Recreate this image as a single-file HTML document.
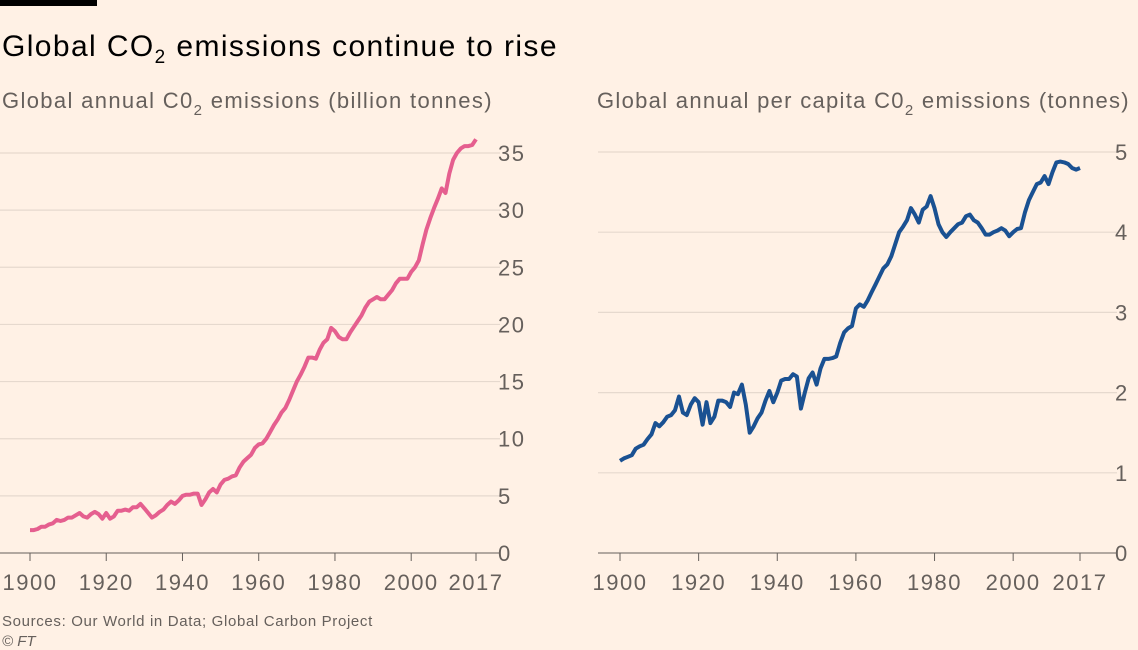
<!DOCTYPE html>
<html><head><meta charset="utf-8"><style>
body{margin:0;background:#fff1e5;}
svg{display:block;font-family:"Liberation Sans",sans-serif;}
</style></head><body>
<svg width="1138" height="650">
<rect x="0" y="0" width="1138" height="650" fill="#fff1e5"/>
<rect x="0" y="0" width="97" height="6" fill="#000"/>
<text x="2" y="56" font-size="30" fill="#000" letter-spacing="1.4">Global CO<tspan font-size="19" dy="7">2</tspan><tspan dy="-7"> emissions continue to rise</tspan></text>
<text x="2" y="108" font-size="22" fill="#66605c" letter-spacing="1.35">Global annual C0<tspan font-size="15" dy="7">2</tspan><tspan dy="-7"> emissions (billion tonnes)</tspan></text>
<text x="597" y="108" font-size="22" fill="#66605c" letter-spacing="1.3">Global annual per capita C0<tspan font-size="15" dy="7">2</tspan><tspan dy="-7"> emissions (tonnes)</tspan></text>
<g id="left"></g>
<g id="right"></g>
<text x="2" y="626" font-size="15" fill="#66605c" letter-spacing="0.65">Sources: Our World in Data; Global Carbon Project</text>
<text x="2" y="646" font-size="15" fill="#66605c" font-style="italic">© FT</text>
</svg>
<script>
const startYear = 1900;
const totalEmissions = [2.0,2.0,2.1,2.3,2.3,2.5,2.6,2.9,2.8,2.9,3.1,3.1,3.3,3.5,3.2,3.1,3.4,3.6,3.4,3.0,3.5,3.0,3.2,3.7,3.7,3.8,3.7,4.0,4.0,4.3,3.9,3.5,3.1,3.3,3.6,3.8,4.2,4.5,4.3,4.6,5.0,5.1,5.1,5.2,5.2,4.2,4.7,5.3,5.6,5.3,6.0,6.4,6.5,6.7,6.8,7.5,8.0,8.3,8.6,9.2,9.5,9.6,10.0,10.6,11.2,11.7,12.3,12.7,13.4,14.2,15.0,15.6,16.3,17.1,17.1,17.0,17.8,18.4,18.7,19.7,19.4,18.9,18.7,18.7,19.3,19.8,20.3,20.8,21.5,22.0,22.2,22.4,22.2,22.2,22.6,23.0,23.6,24.0,24.0,24.0,24.6,25.0,25.6,27.0,28.3,29.3,30.2,31.0,31.9,31.5,33.2,34.4,35.0,35.4,35.6,35.6,35.7,36.2];
const perCapita = [1.15,1.18,1.2,1.22,1.3,1.33,1.35,1.42,1.48,1.62,1.58,1.63,1.7,1.72,1.78,1.95,1.75,1.72,1.85,1.93,1.88,1.6,1.88,1.62,1.7,1.9,1.9,1.88,1.82,2.0,1.98,2.1,1.85,1.5,1.58,1.68,1.75,1.9,2.02,1.88,2.0,2.15,2.17,2.17,2.23,2.2,1.8,2.0,2.18,2.25,2.1,2.3,2.42,2.42,2.43,2.45,2.62,2.75,2.8,2.83,3.05,3.1,3.07,3.15,3.25,3.35,3.45,3.55,3.6,3.7,3.85,4.0,4.07,4.15,4.3,4.22,4.12,4.28,4.32,4.45,4.3,4.1,4.0,3.94,4.0,4.05,4.1,4.12,4.2,4.22,4.15,4.12,4.05,3.97,3.97,4.0,4.02,4.05,4.02,3.95,4.0,4.04,4.05,4.25,4.4,4.5,4.6,4.62,4.7,4.6,4.75,4.87,4.88,4.87,4.85,4.8,4.78,4.8];
const xTicks = [1900,1920,1940,1960,1980,2000,2017];
const leftYTicks = [0,5,10,15,20,25,30,35];
const rightYTicks = [0,1,2,3,4,5];
const NS='http://www.w3.org/2000/svg';
function mk(p,tag,attrs){const e=document.createElementNS(NS,tag);for(const k in attrs)e.setAttribute(k,attrs[k]);p.appendChild(e);return e;}
function draw(g,cfg){
  const xs=y=>cfg.x0+(y-1900)/(2017-1900)*(cfg.x1-cfg.x0);
  const ys=v=>cfg.y0-(v/cfg.vmax)*(cfg.y0-cfg.y1);
  cfg.yt.forEach(v=>{
    const l=mk(g,'line',{x1:cfg.gx0,x2:cfg.gx1,y1:ys(v),y2:ys(v),stroke:v===0?'#66605c':'#e6d9ce','stroke-width':v===0?1:1.2});
    
    
    const t=mk(g,'text',{x:cfg.gx1-2,y:ys(v)+8,'font-size':22,fill:'#66605c','letter-spacing':1.5});
    t.textContent=v;
    
    
  });
  xTicks.forEach(yr=>{
    const l=mk(g,'line',{x1:xs(yr),x2:xs(yr),y1:ys(0),y2:ys(0)+8,stroke:'#66605c','stroke-width':1});
    
    
    const t=mk(g,'text',{x:xs(yr),y:ys(0)+37,'font-size':22,fill:'#66605c','text-anchor':'middle','letter-spacing':1.5});
    t.textContent=yr;
    
    
  });
  const d=cfg.data.map((v,i)=>(i?'L':'M')+xs(startYear+i).toFixed(1)+','+ys(v).toFixed(1)).join('');
  const p=mk(g,'path',{d:d,fill:'none',stroke:cfg.color,'stroke-width':4,'stroke-linejoin':'round'});
  
  
}
draw(document.getElementById('left'),{x0:30,x1:476,y0:553,y1:153,vmax:35,gx0:0,gx1:500,yt:leftYTicks,data:totalEmissions,color:'#e55f8f',name:'total-emissions-line'});
draw(document.getElementById('right'),{x0:620,x1:1080,y0:553,y1:152,vmax:5,gx0:598,gx1:1117,yt:rightYTicks,data:perCapita,color:'#1a5192',name:'per-capita-emissions-line'});
</script>
</body></html>
